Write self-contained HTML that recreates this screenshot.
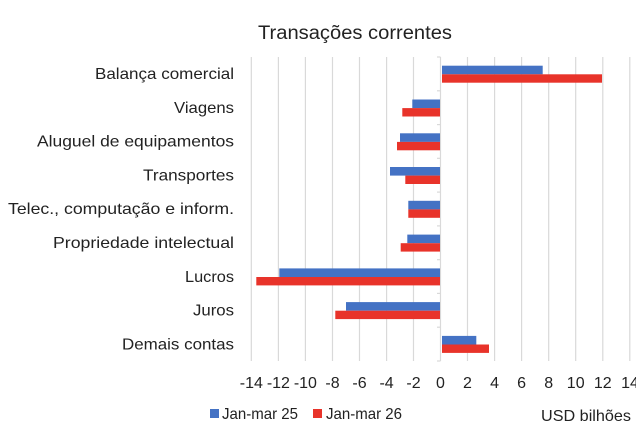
<!DOCTYPE html>
<html><head><meta charset="utf-8"><style>
html,body{margin:0;padding:0;background:#fff;}
svg{display:block;font-family:"Liberation Sans","DejaVu Sans",sans-serif;}
</style></head><body>
<svg width="636" height="446" viewBox="0 0 636 446" xmlns="http://www.w3.org/2000/svg">
<rect width="636" height="446" fill="#fff"/>
<text x="258" y="39" font-size="19" fill="#222" textLength="194" lengthAdjust="spacingAndGlyphs">Transações correntes</text>
<g stroke="#d9d9d9" stroke-width="1.2">
<line x1="251.3" y1="57" x2="251.3" y2="361"/><line x1="278.4" y1="57" x2="278.4" y2="361"/>
<line x1="305.4" y1="57" x2="305.4" y2="361"/><line x1="332.5" y1="57" x2="332.5" y2="361"/>
<line x1="359.5" y1="57" x2="359.5" y2="361"/><line x1="386.6" y1="57" x2="386.6" y2="361"/>
<line x1="413.5" y1="57" x2="413.5" y2="361"/>
<line x1="467.5" y1="57" x2="467.5" y2="361"/><line x1="494.6" y1="57" x2="494.6" y2="361"/>
<line x1="521.6" y1="57" x2="521.6" y2="361"/><line x1="548.7" y1="57" x2="548.7" y2="361"/>
<line x1="575.7" y1="57" x2="575.7" y2="361"/><line x1="602.8" y1="57" x2="602.8" y2="361"/>
<line x1="629.8" y1="57" x2="629.8" y2="361"/>
<line x1="440.5" y1="57" x2="440.5" y2="361"/>
<line x1="437" y1="57" x2="440.5" y2="57"/><line x1="437" y1="90.8" x2="440.5" y2="90.8"/>
<line x1="437" y1="124.6" x2="440.5" y2="124.6"/><line x1="437" y1="158.3" x2="440.5" y2="158.3"/>
<line x1="437" y1="192.1" x2="440.5" y2="192.1"/><line x1="437" y1="225.9" x2="440.5" y2="225.9"/>
<line x1="437" y1="259.7" x2="440.5" y2="259.7"/><line x1="437" y1="293.4" x2="440.5" y2="293.4"/>
<line x1="437" y1="327.2" x2="440.5" y2="327.2"/><line x1="437" y1="361" x2="440.5" y2="361"/>
</g>
<g>
<rect x="442" y="65.7" width="100.7" height="8.6" fill="#4472c4"/>
<rect x="442" y="74.3" width="160" height="8.4" fill="#e8332a"/>
<rect x="412.3" y="99.5" width="27.7" height="8.6" fill="#4472c4"/>
<rect x="402.3" y="108.1" width="37.7" height="8.4" fill="#e8332a"/>
<rect x="400" y="133.3" width="40" height="8.6" fill="#4472c4"/>
<rect x="397" y="141.9" width="43" height="8.4" fill="#e8332a"/>
<rect x="390" y="167" width="50" height="8.6" fill="#4472c4"/>
<rect x="405.3" y="175.6" width="34.7" height="8.4" fill="#e8332a"/>
<rect x="408.3" y="200.8" width="31.7" height="8.6" fill="#4472c4"/>
<rect x="408.3" y="209.4" width="31.7" height="8.4" fill="#e8332a"/>
<rect x="407.3" y="234.6" width="32.7" height="8.6" fill="#4472c4"/>
<rect x="400.7" y="243.2" width="39.3" height="8.4" fill="#e8332a"/>
<rect x="279.3" y="268.4" width="160.7" height="8.6" fill="#4472c4"/>
<rect x="256.3" y="277" width="183.7" height="8.4" fill="#e8332a"/>
<rect x="346" y="302.1" width="94" height="8.6" fill="#4472c4"/>
<rect x="335.3" y="310.7" width="104.7" height="8.4" fill="#e8332a"/>
<rect x="442" y="335.9" width="34.3" height="8.6" fill="#4472c4"/>
<rect x="442" y="344.5" width="47" height="8.4" fill="#e8332a"/>
</g>
<g font-size="16" fill="#222" lengthAdjust="spacingAndGlyphs">
<text x="95" y="79" textLength="139" lengthAdjust="spacingAndGlyphs">Balança comercial</text>
<text x="174" y="113" textLength="60" lengthAdjust="spacingAndGlyphs">Viagens</text>
<text x="37" y="146.5" textLength="197" lengthAdjust="spacingAndGlyphs">Aluguel de equipamentos</text>
<text x="143" y="180.5" textLength="91" lengthAdjust="spacingAndGlyphs">Transportes</text>
<text x="8" y="214" textLength="226" lengthAdjust="spacingAndGlyphs">Telec., computação e inform.</text>
<text x="53" y="248" textLength="181" lengthAdjust="spacingAndGlyphs">Propriedade intelectual</text>
<text x="185" y="282" textLength="49" lengthAdjust="spacingAndGlyphs">Lucros</text>
<text x="193" y="315.5" textLength="41" lengthAdjust="spacingAndGlyphs">Juros</text>
<text x="122" y="349.5" textLength="112" lengthAdjust="spacingAndGlyphs">Demais contas</text>
</g>
<g font-size="16" fill="#222" text-anchor="middle">
<text x="251.3" y="388">-14</text><text x="278.4" y="388">-12</text><text x="305.4" y="388">-10</text>
<text x="332.5" y="388">-8</text><text x="359.5" y="388">-6</text><text x="386.6" y="388">-4</text>
<text x="413.5" y="388">-2</text><text x="440.5" y="388">0</text><text x="467.5" y="388">2</text>
<text x="494.6" y="388">4</text><text x="521.6" y="388">6</text><text x="548.7" y="388">8</text>
<text x="575.7" y="388">10</text><text x="602.8" y="388">12</text><text x="630" y="388">14</text>
</g>
<rect x="210" y="409" width="9" height="9" fill="#4472c4"/>
<text x="222" y="419" font-size="16" fill="#222" textLength="76" lengthAdjust="spacingAndGlyphs">Jan-mar 25</text>
<rect x="313" y="409" width="9" height="9" fill="#e8332a"/>
<text x="326" y="419" font-size="16" fill="#222" textLength="76" lengthAdjust="spacingAndGlyphs">Jan-mar 26</text>
<text x="541" y="421" font-size="16" fill="#222" textLength="90" lengthAdjust="spacingAndGlyphs">USD bilhões</text>
</svg>
</body></html>
